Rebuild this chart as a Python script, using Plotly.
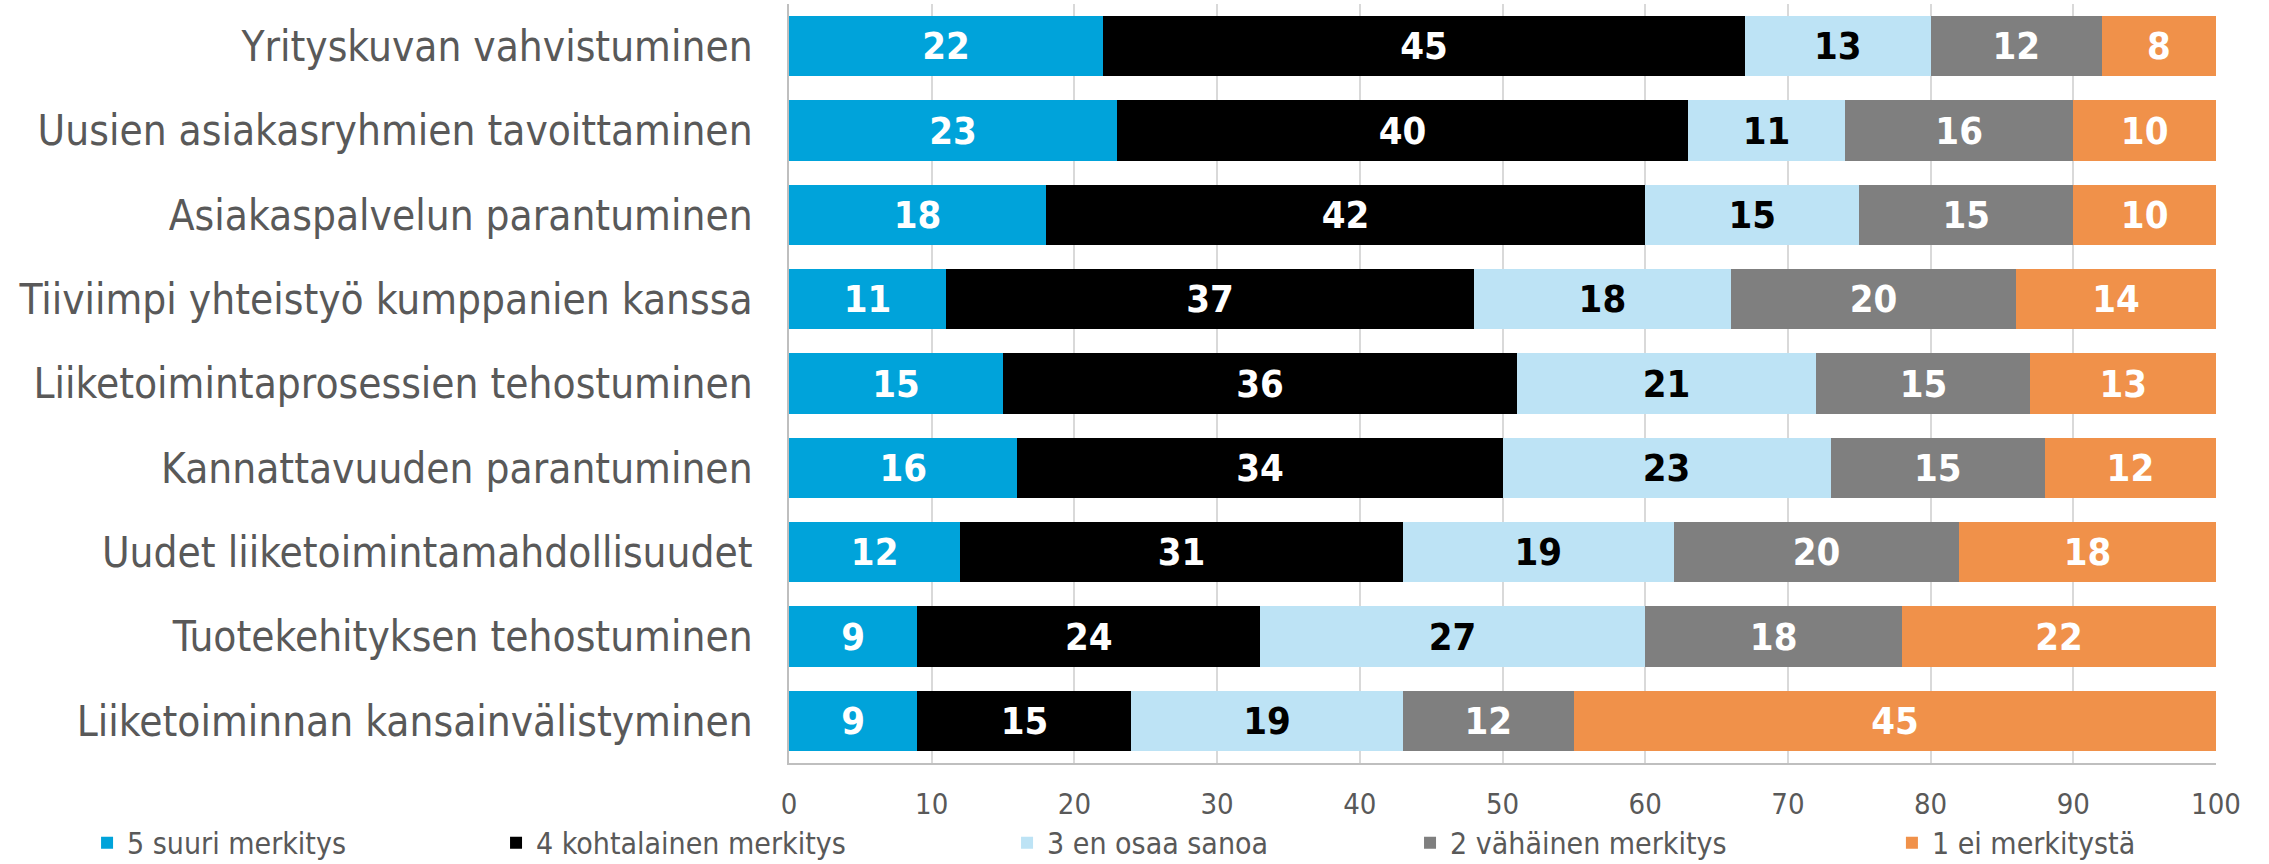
import plotly.graph_objects as go

categories = [
    "Yrityskuvan vahvistuminen",
    "Uusien asiakasryhmien tavoittaminen",
    "Asiakaspalvelun parantuminen",
    "Tiiviimpi yhteistyö kumppanien kanssa",
    "Liiketoimintaprosessien tehostuminen",
    "Kannattavuuden parantuminen",
    "Uudet liiketoimintamahdollisuudet",
    "Tuotekehityksen tehostuminen",
    "Liiketoiminnan kansainvälistyminen",
]

series_names = [
    "5 suuri merkitys",
    "4 kohtalainen merkitys",
    "3 en osaa sanoa",
    "2 vähäinen merkitys",
    "1 ei merkitystä",
]

s5 = [22, 23, 18, 11, 15, 16, 12, 9, 9]
s4 = [45, 40, 42, 37, 36, 34, 31, 24, 15]
s3 = [13, 11, 15, 18, 21, 23, 19, 27, 19]
s2 = [12, 16, 15, 20, 15, 15, 20, 18, 12]
s1 = [8, 10, 10, 14, 13, 12, 18, 22, 45]

x_ticks = [0, 10, 20, 30, 40, 50, 60, 70, 80, 90, 100]

values = [s5, s4, s3, s2, s1]
colors = ["#00A3DA", "#000000", "#BDE3F5", "#7F7F7F", "#F0914A"]
text_colors = ["#FFFFFF", "#FFFFFF", "#000000", "#FFFFFF", "#FFFFFF"]
legend_ids = ["legend", "legend2", "legend3", "legend4", "legend5"]
legend_x = [-0.4919, -0.2053, 0.1528, 0.4352, 0.7729]

FONT = "DejaVu Sans Condensed"

fig = go.Figure()
for name, vals, col, tcol, lid in zip(series_names, values, colors, text_colors, legend_ids):
    fig.add_trace(go.Bar(
        y=categories, x=vals, name=name, orientation="h",
        marker=dict(color=col, line=dict(width=0)),
        text=vals, texttemplate="%{x}", textposition="inside",
        insidetextanchor="middle", textangle=0,
        textfont=dict(family=FONT, size=38, color=tcol, weight="bold"),
        legend=lid, hoverinfo="skip",
    ))

layout_legends = {}
for lid, lx in zip(legend_ids, legend_x):
    layout_legends[lid] = dict(
        x=lx, xanchor="left", y=-0.105, yanchor="middle",
        orientation="h", bgcolor="rgba(0,0,0,0)",
        font=dict(family=FONT, size=30, color="#595959"),
        itemclick=False, itemdoubleclick=False,
    )

fig.update_layout(
    width=2269, height=864,
    barmode="stack", bargap=0.288,
    plot_bgcolor="white", paper_bgcolor="white",
    margin=dict(l=789, r=53, t=4, b=101, autoexpand=False),
    font=dict(family=FONT, color="#595959"),
    showlegend=True,
    hovermode=False,
    **layout_legends,
)
fig.update_xaxes(
    range=[0, 100], tickvals=x_ticks, showgrid=True, gridcolor="#D9D9D9", gridwidth=2,
    showline=True, linecolor="#BFBFBF", linewidth=2, zeroline=False, automargin=False,
    tickfont=dict(family=FONT, size=29, color="#595959"), ticks="", ticklabelstandoff=14,
)
fig.update_yaxes(
    autorange="reversed", showline=True, linecolor="#BFBFBF", linewidth=2,
    showgrid=False, ticks="", ticklabelstandoff=26, automargin=False,
    tickfont=dict(family=FONT, size=42, color="#595959"),
)

fig.write_html(
    "out.html",
    config={"displayModeBar": False},
    post_script="document.body.style.margin='0';document.body.style.overflow='hidden';",
)
